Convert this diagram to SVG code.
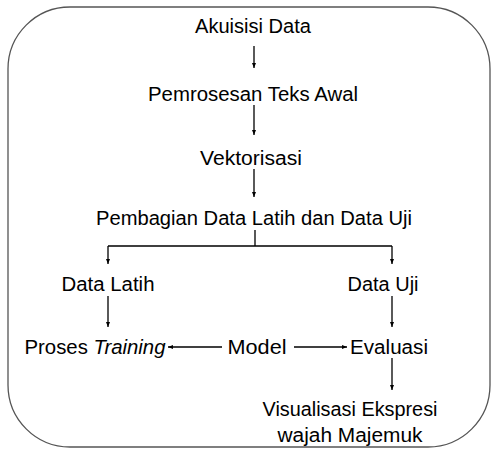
<svg xmlns="http://www.w3.org/2000/svg" width="492" height="454" viewBox="0 0 492 454">
<defs>
<marker id="ah" viewBox="0 0 10 10" refX="10" refY="5" markerWidth="5" markerHeight="5" orient="auto" markerUnits="userSpaceOnUse">
<path d="M0,1 L10,5 L0,9 Z" fill="#000"/>
</marker>
</defs>
<style>
text{font-family:"Liberation Sans",Arial,sans-serif;font-size:19.5px;fill:#000;text-anchor:middle}
.c{stroke:#000;stroke-width:1.3;fill:none}
.a{marker-end:url(#ah)}
</style>
<rect x="8" y="7" width="482" height="440" rx="62" ry="62" fill="#fff" stroke="#555" stroke-width="1.3"/>
<g id="n1"><text x="253" y="33" textLength="116" lengthAdjust="spacingAndGlyphs">Akuisisi Data</text></g>
<g id="n2"><text x="253" y="101" textLength="210" lengthAdjust="spacingAndGlyphs">Pemrosesan Teks Awal</text></g>
<g id="n3"><text x="251" y="165" textLength="102" lengthAdjust="spacingAndGlyphs">Vektorisasi</text></g>
<g id="n4"><text x="254" y="225" textLength="316" lengthAdjust="spacingAndGlyphs">Pembagian Data Latih dan Data Uji</text></g>
<g id="n5"><text x="108" y="291" textLength="93" lengthAdjust="spacingAndGlyphs">Data Latih</text></g>
<g id="n6"><text x="383" y="291" textLength="71" lengthAdjust="spacingAndGlyphs">Data Uji</text></g>
<g id="n7"><text x="95" y="354" textLength="141" lengthAdjust="spacingAndGlyphs">Proses <tspan font-style="italic">Training</tspan></text></g>
<g id="n8"><text x="257" y="354" textLength="59" lengthAdjust="spacingAndGlyphs">Model</text></g>
<g id="n9"><text x="389" y="354" textLength="78" lengthAdjust="spacingAndGlyphs">Evaluasi</text></g>
<g id="n10"><text x="350" y="416" textLength="175" lengthAdjust="spacingAndGlyphs">Visualisasi Ekspresi</text><text x="350" y="442" textLength="145" lengthAdjust="spacingAndGlyphs">wajah Majemuk</text></g>
<g id="connectors">
<line class="c a" x1="254" y1="46" x2="254" y2="68"/>
<line class="c a" x1="254" y1="105" x2="254" y2="135"/>
<line class="c a" x1="254" y1="169" x2="254" y2="197"/>
<path class="c" d="M255,230 V246 M108,246 H392"/>
<line class="c a" x1="108" y1="246" x2="108" y2="264"/>
<line class="c a" x1="392" y1="246" x2="392" y2="264"/>
<line class="c a" x1="108" y1="296" x2="108" y2="327"/>
<line class="c a" x1="392" y1="296" x2="392" y2="327"/>
<line class="c a" x1="222" y1="347" x2="168" y2="347"/>
<line class="c a" x1="294" y1="347" x2="347" y2="347"/>
<line class="c a" x1="392" y1="358" x2="392" y2="390"/>
</g>
</svg>
